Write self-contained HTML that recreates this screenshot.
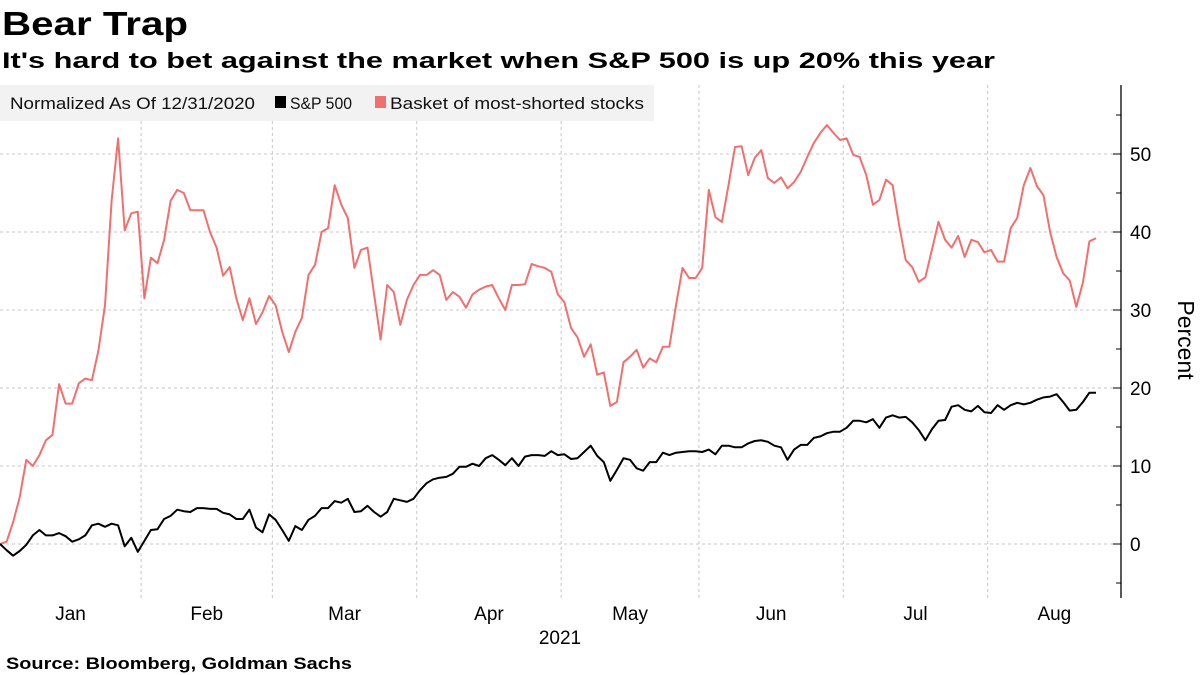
<!DOCTYPE html>
<html><head><meta charset="utf-8"><style>
body{margin:0;background:#fff;}
svg{display:block;font-family:"Liberation Sans",sans-serif;}
</style></head><body>
<svg id="chart" width="1200" height="675" viewBox="0 0 1200 675" xmlns="http://www.w3.org/2000/svg">
<text x="2" y="35" font-size="33" font-weight="bold" fill="#000" textLength="186" lengthAdjust="spacingAndGlyphs">Bear Trap</text>
<text x="2" y="68" font-size="22" font-weight="bold" fill="#000" textLength="993" lengthAdjust="spacingAndGlyphs">It's hard to bet against the market when S&amp;P 500 is up 20% this year</text>
<g id="grid"></g>
<g>
<rect x="0" y="85" width="654" height="36" fill="#f2f2f2"/>
<text x="10" y="109" font-size="17" fill="#111" textLength="245" lengthAdjust="spacingAndGlyphs">Normalized As Of 12/31/2020</text>
<rect x="275" y="96" width="11" height="12" fill="#000"/>
<text x="290" y="109" font-size="17" fill="#111" textLength="62" lengthAdjust="spacingAndGlyphs">S&amp;P 500</text>
<rect x="375" y="96" width="11" height="12" fill="#f07070"/>
<text x="390" y="109" font-size="17" fill="#111" textLength="254" lengthAdjust="spacingAndGlyphs">Basket of most-shorted stocks</text>
</g>
<g id="series"></g>
<g id="axis"></g>
<text transform="translate(1178,340) rotate(90)" text-anchor="middle" font-size="23" fill="#000">Percent</text>
<g id="xaxis"></g>
<text x="560" y="644" text-anchor="middle" font-size="19" fill="#000">2021</text>
<text x="6" y="669" font-size="17" font-weight="bold" fill="#000" textLength="346" lengthAdjust="spacingAndGlyphs">Source: Bloomberg, Goldman Sachs</text>
</svg>
<script>
const monthLabels = ["Jan","Feb","Mar","Apr","May","Jun","Jul","Aug"];
const monthStartIdx = [0,22,42,64,86,107,129,151];
const yTicks = [0,10,20,30,40,50];
const basket = [0,0.3,2.8,6,10.8,10,11.4,13.3,14,20.5,18,18,20.6,21.2,21,24.8,30.6,44,52,40.2,42.4,42.6,31.5,36.7,36,39,44,45.4,45,42.8,42.8,42.8,40,38,34.4,35.5,31.5,28.7,31.5,28.2,29.7,31.8,30.6,27.2,24.6,27.2,29,34.5,35.8,40,40.5,46,43.5,41.8,35.4,37.7,38,32,26.2,33.2,32.3,28.1,31.3,33.2,34.5,34.5,35.1,34.5,31.3,32.3,31.7,30.3,32,32.6,33,33.2,31.5,30,33.2,33.2,33.3,35.9,35.6,35.4,34.9,32,31,27.7,26.5,24,25.6,21.7,22,17.7,18.2,23.3,24,24.9,22.6,23.8,23.3,25.3,25.3,30.6,35.4,34.1,34.1,35.4,45.4,41.9,41.3,46,50.9,51,47.3,49.5,50.5,46.9,46.3,47,45.6,46.4,47.7,49.6,51.4,52.7,53.7,52.7,51.8,52,49.9,49.6,47.3,43.5,44.1,46.7,46,40.9,36.4,35.5,33.6,34.2,37.7,41.3,39,38,39.5,36.8,39,38.7,37.4,37.7,36.2,36.2,40.5,41.8,46,48.2,45.9,44.7,40,36.8,34.7,33.8,30.4,33.5,38.8,39.2];
const sp500 = [0,-0.8,-1.5,-0.9,-0.1,1.1,1.8,1.1,1.1,1.4,1,0.3,0.6,1.1,2.4,2.6,2.2,2.6,2.4,-0.3,0.8,-1,0.4,1.8,1.9,3.2,3.6,4.4,4.2,4.1,4.6,4.6,4.5,4.5,4,3.8,3.2,3.2,4.4,2.1,1.5,3.8,3.1,1.8,0.4,2.3,1.8,3.1,3.6,4.6,4.6,5.5,5.3,5.8,4.1,4.2,4.9,4.1,3.5,4.1,5.8,5.6,5.4,5.8,6.9,7.8,8.3,8.5,8.6,9,9.9,9.9,10.3,10,11,11.4,10.8,10.1,11,10,11.2,11.4,11.4,11.3,11.9,11.4,11.5,10.9,11,11.8,12.6,11.3,10.5,8.1,9.5,11,10.8,9.7,9.4,10.5,10.5,11.7,11.4,11.7,11.8,11.9,11.9,11.8,12.1,11.5,12.6,12.6,12.4,12.4,12.9,13.2,13.3,13.1,12.6,12.4,10.8,12.1,12.7,12.7,13.6,13.8,14.2,14.4,14.4,14.9,15.8,15.8,15.6,16,14.9,16.2,16.5,16.2,16.3,15.6,14.6,13.3,14.7,15.8,15.9,17.6,17.8,17.2,17,17.7,16.9,16.8,17.8,17.2,17.8,18.1,17.9,18.1,18.5,18.8,18.9,19.2,18.2,17.1,17.2,18.2,19.4,19.4];

const NS="http://www.w3.org/2000/svg";
const X0=0, X1=1096, AX=1121, TOP=85, BOT=598;
const n = basket.length;
function xs(i){return X0+(X1-X0)*i/(n-1);}
function ys(v){return 544-7.8*v;}
function mk(tag,attrs,parent){const e=document.createElementNS(NS,tag);for(const k in attrs)e.setAttribute(k,attrs[k]);parent.appendChild(e);return e;}
const grid=document.getElementById('grid'), ser=document.getElementById('series'), ax=document.getElementById('axis'), xa=document.getElementById('xaxis');
const gx = monthStartIdx.slice(1).map(i=>xs(i-0.5));
gx.forEach((x,k)=>{
  const l=mk('line',{x1:x,x2:x,y1:TOP,y2:BOT,stroke:'#c8c8c8','stroke-dasharray':'3,3'},grid);
  
  
});
yTicks.forEach(v=>{
  const l=mk('line',{x1:0,x2:AX,y1:ys(v),y2:ys(v),stroke:'#c8c8c8','stroke-dasharray':'3,3'},grid);
  
  
  const t=mk('text',{x:AX+9,y:ys(v)+7,'font-size':19,fill:'#000'},ax);
  t.textContent=v;
  
  
});
for(let v=-5;v<=55;v+=5){
  const len = (v%10===0)?8:5;
  const tk=mk('line',{x1:AX-len,x2:AX,y1:ys(v),y2:ys(v),stroke:'#000','stroke-width':1},ax);
  
  
}
const axl=mk('line',{x1:AX,x2:AX,y1:TOP,y2:BOT,stroke:'#000','stroke-width':1.3},ax);


const bounds=[0].concat(gx).concat([AX]);
monthLabels.forEach((m,k)=>{
  const t=mk('text',{x:(bounds[k]+bounds[k+1])/2,y:620,'text-anchor':'middle','font-size':19,fill:'#000'},xa);
  t.textContent=m;
  
  
});
function line(arr,color,name){
  const d=arr.map((v,i)=>(i?'L':'M')+xs(i).toFixed(1)+','+ys(v).toFixed(1)).join('');
  const p=mk('path',{d:d,fill:'none',stroke:color,'stroke-width':2,'stroke-linejoin':'round'},ser);
  
  
}
line(basket,'#f07070','basket-line');
line(sp500,'#000','sp500-line');
</script>
</body></html>
